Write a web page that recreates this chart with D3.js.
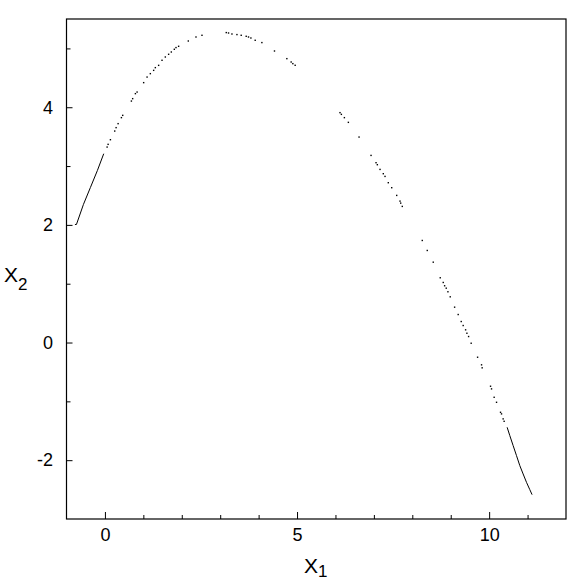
<!DOCTYPE html>
<html>
<head>
<meta charset="utf-8">
<script src="https://cdn.jsdelivr.net/npm/d3@7"></script>
<style>
  body { margin: 0; background: #fff; }
  svg { display: block; }
  text { font-family: "Liberation Sans", Arial, sans-serif; fill: #000; }
</style>
</head>
<body>
<svg width="581" height="581"></svg>
<script>
  // dense stretch at the lower left end (reads as a solid line)
  const leftX1 = [-0.78, -0.741, -0.559, -0.377, -0.195, -0.031];
  const leftX2 = [2.007, 2.007, 2.348, 2.637, 2.926, 3.210];

  // sparse points along the arch
  const dotX1 = [0.057, 0.083, 0.143, 0.255, 0.291, 0.343, 0.429, 0.463, 0.689, 0.722,
    0.793, 0.837, 1.008, 1.097, 1.182, 1.268, 1.312, 1.398, 1.486, 1.572,
    1.658, 1.728, 1.806, 1.850, 1.918, 2.170, 2.370, 2.526, 3.158, 3.217,
    3.306, 3.436, 3.547, 3.677, 3.737, 3.799, 3.911, 4.085, 4.413, 4.735,
    4.847, 4.891, 4.951, 6.118, 6.154, 6.232, 6.336, 6.614, 6.926, 7.056,
    7.090, 7.160, 7.245, 7.290, 7.375, 7.464, 7.594, 7.680, 7.698, 7.739,
    8.259, 8.389, 8.545, 8.727, 8.805, 8.841, 8.883, 8.927, 8.987, 9.101,
    9.194, 9.273, 9.324, 9.387, 9.421, 9.465, 9.532, 9.699, 9.802, 9.818,
    10.036, 10.062, 10.130, 10.192, 10.296, 10.322, 10.364, 10.390];
  const dotX2 = [3.323, 3.369, 3.448, 3.595, 3.653, 3.721, 3.823, 3.862, 4.105, 4.146,
    4.231, 4.258, 4.418, 4.513, 4.571, 4.627, 4.673, 4.712, 4.798, 4.854,
    4.900, 4.939, 4.985, 5.014, 5.036, 5.126, 5.194, 5.223, 5.269, 5.262,
    5.245, 5.235, 5.223, 5.206, 5.194, 5.177, 5.138, 5.099, 4.956, 4.826,
    4.769, 4.741, 4.713, 3.908, 3.879, 3.823, 3.743, 3.493, 3.181, 3.057,
    3.023, 2.943, 2.870, 2.824, 2.717, 2.632, 2.501, 2.404, 2.370, 2.314,
    1.735, 1.565, 1.366, 1.101, 1.021, 0.965, 0.924, 0.863, 0.777, 0.601,
    0.476, 0.357, 0.289, 0.216, 0.158, 0.102, -0.012, -0.250, -0.379, -0.430,
    -0.743, -0.788, -0.931, -1.016, -1.186, -1.213, -1.298, -1.339];

  // dense stretch at the lower right end
  const rightX1 = [10.468, 10.538, 10.624, 10.712, 10.798, 10.884, 10.972, 11.058, 11.117];
  const rightX2 = [-1.441, -1.583, -1.752, -1.923, -2.093, -2.234, -2.377, -2.501, -2.586];

  // ticks
  const xMajor = [0, 5, 10];
  const xMinor = [1, 2, 3, 4, 6, 7, 8, 9, 11];
  const yMajor = [-2, 0, 2, 4];
  const yMinor = [-1, 1, 3, 5];

  const svg = d3.select("svg");
  const margin = { left: 66.5, top: 19, right: 15, bottom: 62 };
  const width = 581 - margin.left - margin.right;
  const height = 581 - margin.top - margin.bottom;

  const g = svg.append("g")
    .attr("transform", `translate(${margin.left},${margin.top})`);

  const x = d3.scaleLinear().domain([-1, 12]).range([0, width]);
  const y = d3.scaleLinear().domain([-3, 5.5]).range([height, 0]);

  // plain hyphen for negatives, as in the original
  const fmt = d => String(d);

  // x axis: minor then major ticks, pointing inward
  const xMinorG = g.append("g")
    .attr("transform", `translate(0,${height})`)
    .call(d3.axisBottom(x).tickValues(xMinor).tickSize(-4).tickFormat(""));
  const xMajorG = g.append("g")
    .attr("transform", `translate(0,${height})`)
    .call(d3.axisBottom(x).tickValues(xMajor).tickSize(-7).tickPadding(9).tickFormat(fmt));

  const yMinorG = g.append("g")
    .call(d3.axisLeft(y).tickValues(yMinor).tickSize(-4).tickFormat(""));
  const yMajorG = g.append("g")
    .call(d3.axisLeft(y).tickValues(yMajor).tickSize(-6).tickPadding(13.5).tickFormat(fmt));

  [xMinorG, xMajorG, yMinorG, yMajorG].forEach(a => {
    a.select(".domain").remove();
    a.selectAll("line").attr("stroke", "#000").attr("stroke-width", 1);
    a.selectAll("text").attr("font-size", 18).attr("font-family", "Liberation Sans, Arial, sans-serif");
  });

  // frame
  g.append("rect")
    .attr("x", 0).attr("y", 0)
    .attr("width", width).attr("height", height)
    .attr("fill", "none")
    .attr("stroke", "#000")
    .attr("stroke-width", 1.2);

  // dense ends drawn as lines
  const line = d3.line().x(d => x(d[0])).y(d => y(d[1]));
  [[leftX1, leftX2], [rightX1, rightX2]].forEach(([xs, ys]) => {
    g.append("path")
      .datum(xs.map((v, i) => [v, ys[i]]))
      .attr("d", line)
      .attr("fill", "none")
      .attr("stroke", "#000")
      .attr("stroke-width", 1);
  });

  // scattered points
  g.selectAll(".dot")
    .data(dotX1.map((v, i) => [v, dotX2[i]]))
    .enter().append("rect")
    .attr("class", "dot")
    .attr("x", d => x(d[0]) - 0.7)
    .attr("y", d => y(d[1]) - 0.7)
    .attr("width", 1.4)
    .attr("height", 1.4)
    .attr("fill", "#000");

  // axis titles with subscripts
  const xt = svg.append("text")
    .attr("x", 304).attr("y", 573)
    .attr("font-size", 21);
  xt.append("tspan").text("X");
  xt.append("tspan").attr("font-size", 17).attr("dy", 4).text("1");

  const yt = svg.append("text")
    .attr("x", 4).attr("y", 282)
    .attr("font-size", 21);
  yt.append("tspan").text("X");
  yt.append("tspan").attr("font-size", 17).attr("dy", 8).text("2");
</script>
</body>
</html>
